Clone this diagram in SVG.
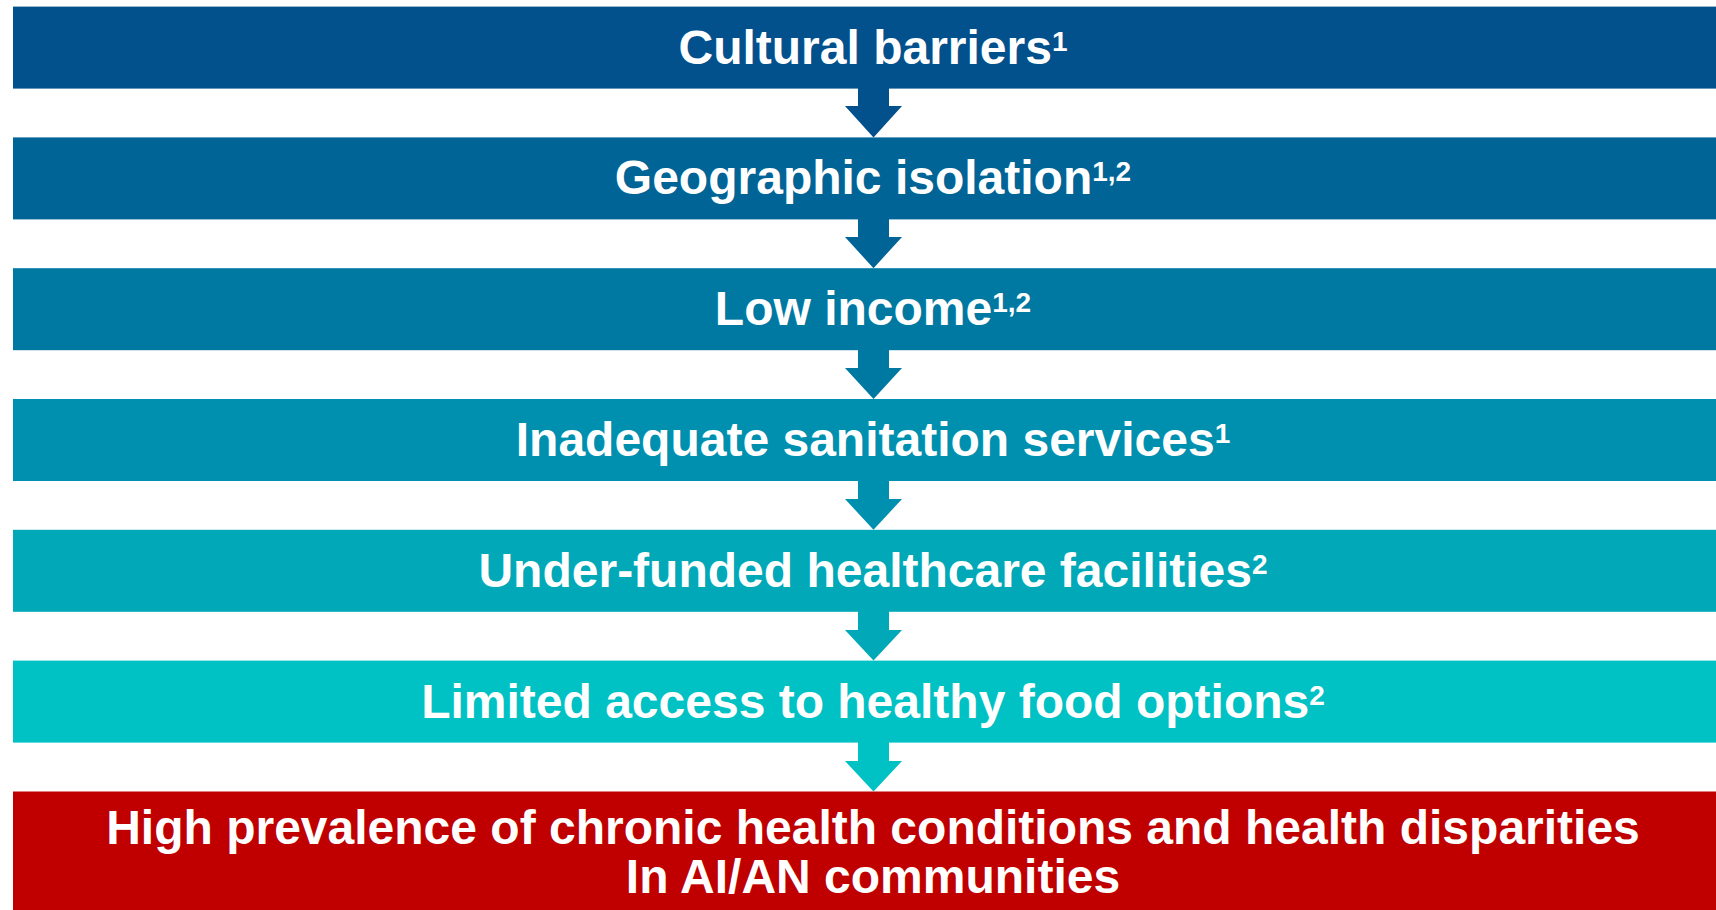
<svg xmlns="http://www.w3.org/2000/svg" width="1716" height="910" viewBox="0 0 1716 910">
  <style>
    .label { font-family: "Liberation Sans", Arial, Helvetica, sans-serif; font-weight: bold; font-size: 48px; fill: #FFFFFF; text-anchor: middle; }
    .sup { font-size: 28px; }
  </style>
  <rect x="0" y="0" width="1716" height="910" fill="#FFFFFF"/>

  <!-- connectors: block arrows from each step to the next -->
  <g id="connectors">
    <polygon fill="#02508C" points="858,86 889,86 889,106 902,106 873.5,137.4 845,106 858,106"/>
    <polygon fill="#006496" points="858,217 889,217 889,237 902,237 873.5,268.2 845,237 858,237"/>
    <polygon fill="#0079A2" points="858,348 889,348 889,368 902,368 873.5,399 845,368 858,368"/>
    <polygon fill="#0090AF" points="858,479 889,479 889,499 902,499 873.5,529.8 845,499 858,499"/>
    <polygon fill="#00A8B8" points="858,610 889,610 889,630 902,630 873.5,660.6 845,630 858,630"/>
    <polygon fill="#00C1C3" points="858,741 889,741 889,761 902,761 873.5,791.5 845,761 858,761"/>
  </g>

  <g id="step1">
    <rect x="13" y="6.6" width="1720" height="82" fill="#02508C"/>
    <text class="label" x="873" y="63.5">Cultural barriers<tspan class="sup" dy="-13">1</tspan></text>
  </g>
  <g id="step2">
    <rect x="13" y="137.4" width="1720" height="82" fill="#006496"/>
    <text class="label" x="873" y="194.3">Geographic isolation<tspan class="sup" dy="-13">1,2</tspan></text>
  </g>
  <g id="step3">
    <rect x="13" y="268.2" width="1720" height="82" fill="#0079A2"/>
    <text class="label" x="873" y="325.1">Low income<tspan class="sup" dy="-13">1,2</tspan></text>
  </g>
  <g id="step4">
    <rect x="13" y="399" width="1720" height="82" fill="#0090AF"/>
    <text class="label" x="873" y="455.9">Inadequate sanitation services<tspan class="sup" dy="-13">1</tspan></text>
  </g>
  <g id="step5">
    <rect x="13" y="529.8" width="1720" height="82" fill="#00A8B8"/>
    <text class="label" x="873" y="586.7">Under-funded healthcare facilities<tspan class="sup" dy="-13">2</tspan></text>
  </g>
  <g id="step6">
    <rect x="13" y="660.6" width="1720" height="82" fill="#00C1C3"/>
    <text class="label" x="873" y="717.5">Limited access to healthy food options<tspan class="sup" dy="-13">2</tspan></text>
  </g>
  <g id="outcome">
    <rect x="13" y="791.5" width="1720" height="130" fill="#C00000"/>
    <text class="label" x="873" y="843.5">High prevalence of chronic health conditions and health disparities</text>
    <text class="label" x="873" y="892.5">In AI/AN communities</text>
  </g>
</svg>
